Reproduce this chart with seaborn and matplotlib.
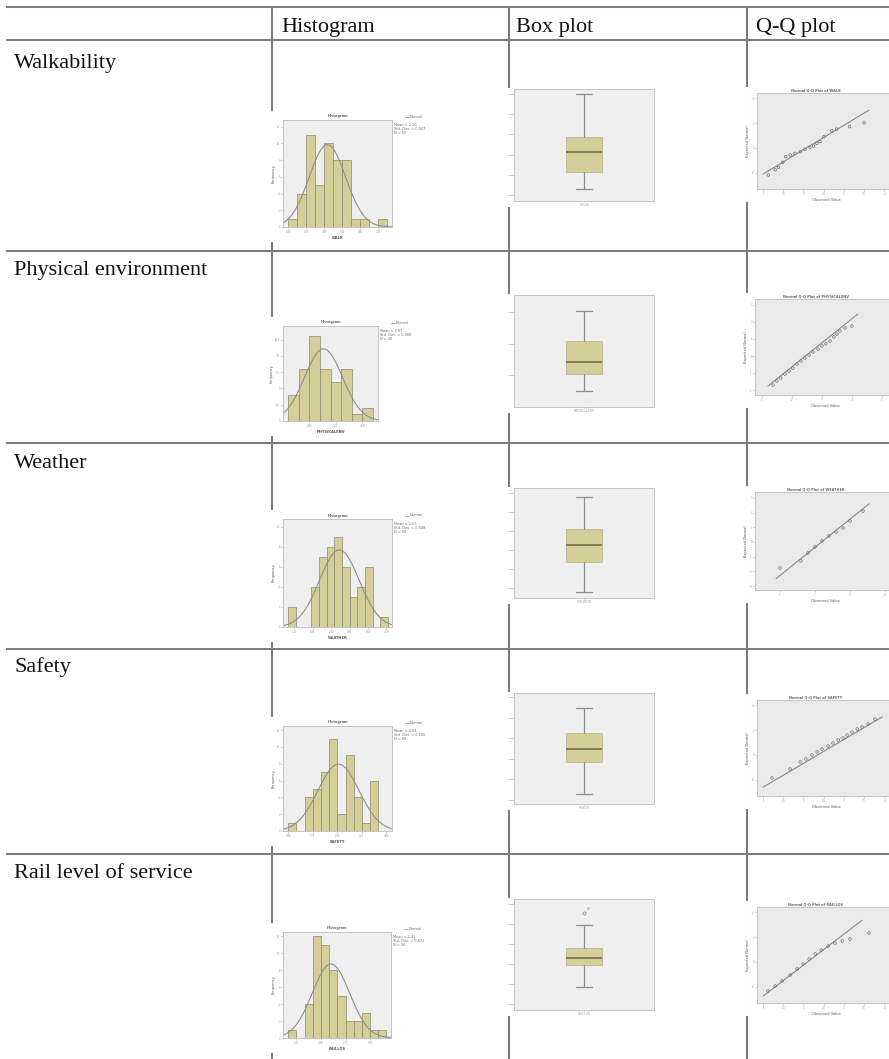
import numpy as np
import pandas as pd
import matplotlib
matplotlib.use("Agg")
import matplotlib.pyplot as plt
from matplotlib.patches import Rectangle
import seaborn as sns

sns.set_style("ticks")
plt.rcParams['font.family'] = ['Liberation Serif', 'DejaVu Serif']

# ---- table text
header_labels = ["Histogram", "Box plot", "Q-Q plot"]
row_labels = ["Walkability", "Physical environment", "Weather", "Safety", "Rail level of service"]
var_names = ["WALK", "PHYSICALENV", "WEATHER", "SAFETY", "RAILLOS"]

# ---- histograms: bin counts
walk_counts = [1, 4, 11, 5, 10, 8, 8, 1, 1, 0, 1]
phys_counts = [4, 8, 13, 8, 6, 8, 1, 2]
weather_counts = [2, 0, 0, 4, 7, 8, 9, 6, 3, 4, 6, 0, 1]
safety_counts = [1, 0, 4, 5, 7, 11, 2, 9, 4, 1, 6]
rail_counts = [1, 0, 4, 12, 11, 8, 5, 2, 2, 3, 1, 1]
hist_counts = [walk_counts, phys_counts, weather_counts, safety_counts, rail_counts]
hist_first_edge = [1.0, 1.0, 1.0, 1.0, 1.0]
hist_bin_width = [0.25, 0.5, 0.25, 0.25, 0.25]
hist_xticks = [[1.0, 1.5, 2.0, 2.5, 3.0, 3.5],
               [2.0, 3.25, 4.5],
               [1.2, 1.8, 2.4, 3.0, 3.6, 4.2],
               [1.0, 1.75, 2.5, 3.25, 4.0],
               [1.25, 2.0, 2.75, 3.5]]
hist_ystep = [2, 2.5, 2, 2, 2]

# ---- box plots: whisker low, Q1, median, Q3, whisker high
walk_box = [1.30, 2.14, 3.13, 3.87, 6.00]
phys_box = [0.50, 1.03, 1.41, 2.09, 3.03]
weather_box = [0.79, 2.37, 3.26, 4.10, 5.79]
safety_box = [1.29, 2.84, 3.48, 4.25, 5.47]
rail_box = [1.85, 2.95, 3.30, 3.80, 4.95]
box_stats = [walk_box, phys_box, weather_box, safety_box, rail_box]
box_fliers = [[], [], [], [], [5.55]]
box_flier_labels = ["", "", "", "", "47"]
box_yticks = [[1, 2, 3, 4, 5, 6], [1, 2, 3], [1, 2, 3, 4, 5, 6],
              [1, 2, 3, 4, 5, 6], [1, 2, 3, 4, 5, 6]]

# ---- Q-Q plots: observed value vs expected normal
walk_obs = [1.13, 1.30, 1.38, 1.49, 1.56, 1.67, 1.79, 1.92, 2.04, 2.16, 2.25, 2.33,
            2.41, 2.51, 2.70, 2.82, 3.14, 3.50]
walk_exp = [-2.18, -1.77, -1.56, -1.15, -0.70, -0.56, -0.43, -0.30, -0.10, 0.06, 0.16, 0.38,
            0.51, 0.91, 1.40, 1.53, 1.72, 2.04]
phys_obs = [1.37, 1.50, 1.63, 1.77, 1.90, 2.03, 2.17, 2.30, 2.43, 2.57, 2.70, 2.87,
            3.00, 3.13, 3.27, 3.40, 3.50, 3.60, 3.77, 4.00]
phys_exp = [-1.71, -1.47, -1.29, -1.06, -0.88, -0.71, -0.47, -0.29, -0.12, 0.06, 0.24, 0.41,
            0.59, 0.71, 0.88, 1.12, 1.29, 1.47, 1.65, 1.76]
weather_obs = [1.0, 1.6, 1.8, 2.0, 2.2, 2.4, 2.6, 2.8, 3.0, 3.37]
weather_exp = [-1.77, -1.29, -0.75, -0.34, 0.07, 0.41, 0.68, 0.95, 1.43, 2.10]
safety_obs = [1.22, 1.67, 1.92, 2.06, 2.21, 2.34, 2.46, 2.61, 2.73, 2.86, 2.98, 3.08,
              3.20, 3.33, 3.45, 3.60, 3.77]
safety_exp = [-1.85, -1.13, -0.56, -0.32, 0.00, 0.24, 0.48, 0.73, 0.97, 1.21, 1.37, 1.61,
              1.85, 2.10, 2.26, 2.50, 2.90]
rail_obs = [1.12, 1.30, 1.47, 1.67, 1.84, 1.99, 2.14, 2.29, 2.44, 2.61, 2.78, 2.96, 3.15, 3.62]
rail_exp = [-2.34, -1.94, -1.53, -1.05, -0.56, -0.16, 0.24, 0.65, 0.97, 1.29, 1.53, 1.69, 1.85, 2.34]
qq_obs = [walk_obs, phys_obs, weather_obs, safety_obs, rail_obs]
qq_exp = [walk_exp, phys_exp, weather_exp, safety_exp, rail_exp]
qq_mean = [2.07, 2.45, 2.19, 2.35, 2.10]
qq_sd = [0.508, 0.709, 0.52, 0.52, 0.40]
qq_line_x = [[1.0, 3.62], [1.2, 4.2], [0.89, 3.54], [1.0, 3.95], [1.0, 3.45]]

# ---- layout in pixels (left, top, right, bottom)
W, H = 889, 1059
hline_y = [6.7, 39.5, 250.5, 443, 649, 854]
vline_x = [271.5, 508.5, 746.5]
label_baseline = [68, 275, 468, 672, 878]
hist_panel = [(283, 120, 392, 227), (283, 326, 378, 421), (283, 519, 392, 627),
              (283, 726, 392, 831), (283, 932, 391, 1038)]
hist_xlim = [(0.86, 3.89), (0.75, 5.25), (0.83, 4.38), (0.84, 4.17), (0.84, 4.14)]
hist_ymax = [12.8, 14.6, 10.8, 12.5, 12.5]
box_panel = [(514, 89, 654, 201), (514, 295, 654, 407), (514, 488, 654, 598),
             (514, 693, 654, 804), (514, 899, 654, 1010)]
box_ylim = [(0.70, 6.25), (0.0, 3.53), (0.47, 6.26), (0.80, 6.19), (0.70, 6.25)]
qq_panel = [(757, 93, 896, 189), (755, 299, 896, 395), (755, 492, 896, 590),
            (757, 700, 896, 796), (757, 907, 896, 1003)]
qq_xlim = [(0.85, 4.29), (0.77, 5.47), (0.29, 4.31), (0.85, 4.29), (0.85, 4.29)]
qq_ylim = [(-3.31, 4.44), (-2.29, 3.35), (-3.27, 3.40), (-3.31, 4.44), (-3.31, 4.44)]
qq_xticks = [[1.0, 1.5, 2.0, 2.5, 3.0, 3.5, 4.0], [1, 2, 3, 4, 5], [1, 2, 3, 4],
             [1.0, 1.5, 2.0, 2.5, 3.0, 3.5, 4.0], [1.0, 1.5, 2.0, 2.5, 3.0, 3.5, 4.0]]
qq_yticks = [[-2, 0, 2, 4], [-2, -1, 0, 1, 2, 3], [-3, -2, -1, 0, 1, 2, 3],
             [-2, 0, 2, 4], [-2, 0, 2, 4]]

bar_color = '#d4cf98'
bar_edge = '#8b886a'
panel_face = '#efefef'
qq_face = '#eaeaea'
spine_color = '#c4c4c4'
line_color = '#7c7c7c'
tiny_color = '#6a6a6a'
TINY = 2.5

fig = plt.figure(figsize=(W / 100, H / 100), dpi=100)
bg = fig.add_axes([0, 0, 1, 1], zorder=0)
bg.set_xlim(0, W)
bg.set_ylim(H, 0)
bg.axis('off')

# table rules
for y in hline_y:
    bg.plot([6, W], [y, y], color=line_color, lw=1.45, zorder=1, solid_capstyle='butt')
for x in vline_x:
    bg.plot([x, x], [hline_y[0], H], color=line_color, lw=1.45, zorder=1, solid_capstyle='butt')

for x, s in zip([281, 516, 756], header_labels):
    bg.text(x, 32, s, fontsize=16, color='#111111', va='baseline', ha='left')
for y, s in zip(label_baseline, row_labels):
    bg.text(14, y, s, fontsize=16, color='#111111', va='baseline', ha='left')


def white_box(l, t, r, b):
    bg.add_patch(Rectangle((l, t), r - l, b - t, facecolor='white', edgecolor='none', zorder=3))


def tiny(x, y, s, **kw):
    kw.setdefault('ha', 'center')
    kw.setdefault('va', 'center')
    bg.text(x, y, s, fontsize=TINY, color=tiny_color, family='DejaVu Sans', zorder=5, **kw)


def panel(rect, face):
    l, t, r, b = rect
    ax = fig.add_axes([l / W, 1 - b / H, (r - l) / W, (b - t) / H], zorder=4)
    ax.set_facecolor(face)
    for s in ax.spines.values():
        s.set_color(spine_color)
        s.set_linewidth(0.7)
    ax.tick_params(length=1.6, width=0.4, color='#a0a0a0', labelsize=2.2,
                   labelcolor='#8a8a8a', pad=0.6, left=True, bottom=True)
    return ax


for i in range(5):
    # ---------------- histogram
    l, t, r, b = hist_panel[i]
    white_box(270, t - 9, r + 29, b + 15)
    ax = panel(hist_panel[i], panel_face)
    counts = np.array(hist_counts[i], dtype=float)
    bw = hist_bin_width[i]
    edges = hist_first_edge[i] + bw * np.arange(len(counts) + 1)
    centers = (edges[:-1] + edges[1:]) / 2
    hdf = pd.DataFrame({'value': centers, 'count': counts})
    sns.histplot(data=hdf, x='value', weights='count', binwidth=bw,
                 binrange=(float(edges[0]), float(edges[-1])), ax=ax, color=bar_color,
                 edgecolor=bar_edge, linewidth=0.5, alpha=1)
    n = counts.sum()
    mean = (centers * counts).sum() / n
    sd = np.sqrt(((centers - mean) ** 2 * counts).sum() / (n - 1))
    xs = np.linspace(hist_xlim[i][0], hist_xlim[i][1], 120)
    ys = n * bw * np.exp(-0.5 * ((xs - mean) / sd) ** 2) / (sd * np.sqrt(2 * np.pi))
    ax.plot(xs, ys, color='#8e8e8e', lw=0.8)
    ax.set_xlim(*hist_xlim[i])
    ax.set_ylim(0, hist_ymax[i])
    ax.set_xticks(hist_xticks[i])
    ax.set_xticklabels([f"{v:.2f}" for v in hist_xticks[i]])
    yt = np.arange(0, hist_ymax[i], hist_ystep[i])
    ax.set_yticks(yt)
    ax.set_yticklabels([f"{v:g}" for v in yt])
    ax.set_xlabel(var_names[i], fontsize=2.6, color='#555555', labelpad=1.2,
                  family='DejaVu Sans', fontweight='bold')
    ax.set_ylabel('Frequency', fontsize=2.6, color='#555555', labelpad=1.0, family='DejaVu Sans')
    tiny((l + r) / 2, t - 3.5, 'Histogram', fontweight='bold')
    bg.plot([r + 13, r + 17], [t - 3.5, t - 3.5], color='#8e8e8e', lw=0.5, zorder=5)
    tiny(r + 18, t - 3.5, 'Normal', ha='left')
    tiny(r + 2, t + 9, f"Mean = {mean:.2f}\nStd. Dev. = {sd:.3f}\nN = {int(n)}",
         ha='left', linespacing=1.0)

    # ---------------- box plot
    l, t, r, b = box_panel[i]
    white_box(506, t - 1.5, r + 1, b + 6)
    ax = panel(box_panel[i], panel_face)
    s = box_stats[i]
    ax.bxp([dict(whislo=s[0], q1=s[1], med=s[2], q3=s[3], whishi=s[4], fliers=box_fliers[i])],
           positions=[1], widths=0.257, capwidths=0.12, patch_artist=True, manage_ticks=False,
           boxprops=dict(facecolor=bar_color, edgecolor='#b9b58e', linewidth=0.6),
           medianprops=dict(color='#7a7752', linewidth=1.3),
           whiskerprops=dict(color='#8c8c8c', linewidth=0.9),
           capprops=dict(color='#8c8c8c', linewidth=0.9),
           flierprops=dict(marker='o', markersize=2.2, markerfacecolor='none',
                           markeredgecolor='#777777', markeredgewidth=0.5))
    for fv in box_fliers[i]:
        ax.text(1.02, fv + 0.08, box_flier_labels[i], fontsize=2.2, color='#777777',
                family='DejaVu Sans', ha='left', va='bottom')
    ax.set_xlim(0.5, 1.5)
    ax.set_ylim(*box_ylim[i])
    ax.set_yticks(box_yticks[i])
    ax.set_yticklabels([])
    ax.tick_params(axis='y', length=4)
    ax.set_xticks([1])
    ax.set_xticklabels([var_names[i]])
    ax.tick_params(axis='x', length=0.8)

    # ---------------- Q-Q plot
    l, t, r, b = qq_panel[i]
    white_box(745.5, t - 6, W, b + 13)
    ax = panel(qq_panel[i], qq_face)
    qdf = pd.DataFrame({'observed': qq_obs[i], 'expected': qq_exp[i]})
    sns.scatterplot(data=qdf, x='observed', y='expected', ax=ax, marker='o', s=3.5,
                    facecolors='none', edgecolor='#6e6e6e', linewidth=0.5, zorder=3)
    lx = np.array(qq_line_x[i])
    ax.plot(lx, (lx - qq_mean[i]) / qq_sd[i], color='#8a8a8a', lw=0.8)
    ax.set_xlim(*qq_xlim[i])
    ax.set_ylim(*qq_ylim[i])
    ax.set_xticks(qq_xticks[i])
    ax.set_xticklabels([f"{v:g}" for v in qq_xticks[i]])
    ax.set_yticks(qq_yticks[i])
    ax.set_yticklabels([f"{v:g}" for v in qq_yticks[i]])
    ax.set_xlabel('Observed Value', fontsize=2.6, color='#555555', labelpad=1.2, family='DejaVu Sans')
    ax.set_ylabel('Expected Normal', fontsize=2.6, color='#555555', labelpad=1.0, family='DejaVu Sans')
    tiny(816, t - 2.5, f"Normal Q-Q Plot of {var_names[i]}", fontweight='bold')

fig.savefig('out.png', dpi=100)
